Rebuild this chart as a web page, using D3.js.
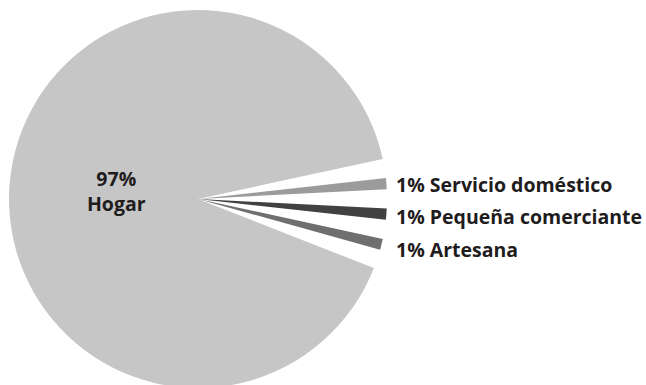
<!DOCTYPE html>
<html>
<head>
<meta charset="utf-8">
<script src="https://cdn.jsdelivr.net/npm/d3@7"></script>
<style>
  html, body { margin: 0; padding: 0; background: #fff; }
  svg { display: block; }
  text { font-family: "Open Sans", Lato, sans-serif; font-weight: 700; fill: #1f1c1d; }
</style>
</head>
<body>
<div id="chart"></div>
<script>
// Distribución por ocupación
const categories = ["Hogar", "Servicio doméstico", "Pequeña comerciante", "Artesana"];
const shares = [97, 1, 1, 1];
const sliceColors = ["#c6c6c6", "#9b9b9b", "#414141", "#6f6f6f"];

const width = 646, height = 385;
const cx = 198, cy = 199, radius = 189;
const gap = 5.9 * Math.PI / 180;          // angular gap between wedges
const pivotAngle = (90 + 4.6) * Math.PI / 180; // where the middle small wedge points

const data = categories.map((c, i) => ({ name: c, value: shares[i], color: sliceColors[i] }));

const pie = d3.pie().sort(null).value(d => d.value).padAngle(gap);
let arcs = pie(data);

// rotate the layout so the middle small wedge sits just below the right horizontal,
// and turn the padding into wedge-shaped gaps that meet at the centre
const mid = arcs[2];
const offset = pivotAngle - (mid.startAngle + mid.endAngle) / 2;
arcs = arcs.map(a => ({
  data: a.data,
  value: a.value,
  startAngle: a.startAngle + offset + a.padAngle / 2,
  endAngle: a.endAngle + offset - a.padAngle / 2,
  padAngle: 0
}));

const arc = d3.arc().innerRadius(0).outerRadius(radius).padAngle(0);

const svg = d3.select("#chart").append("svg")
  .attr("width", width).attr("height", height);

const g = svg.append("g").attr("transform", `translate(${cx},${cy})`);

g.selectAll("path").data(arcs).join("path")
  .attr("d", arc)
  .attr("fill", d => d.data.color);

// label inside the large slice
const big = arcs[0];
const bigMid = (big.startAngle + big.endAngle) / 2;
const labelR = 82;
const bx = Math.sin(bigMid) * labelR, by = -Math.cos(bigMid) * labelR;
const bigLabel = g.append("text")
  .attr("text-anchor", "middle")
  .style("font-size", "19.5px");
bigLabel.append("tspan").attr("x", bx).attr("y", by - 6).text(shares[0] + "%");
bigLabel.append("tspan").attr("x", bx).attr("y", by + 19).text(categories[0]);

// labels for the small wedges, placed along each wedge's direction
const labelX = 396 - cx;
g.selectAll("text.small").data(arcs.slice(1)).join("text")
  .attr("class", "small")
  .attr("x", labelX)
  .attr("y", d => {
    const a = (d.startAngle + d.endAngle) / 2;
    const dir = a - Math.PI / 2;
    return Math.tan(dir) * labelX + 9;
  })
  .style("font-size", "19.5px")
  .text(d => d.data.value + "% " + d.data.name);
</script>
</body>
</html>
